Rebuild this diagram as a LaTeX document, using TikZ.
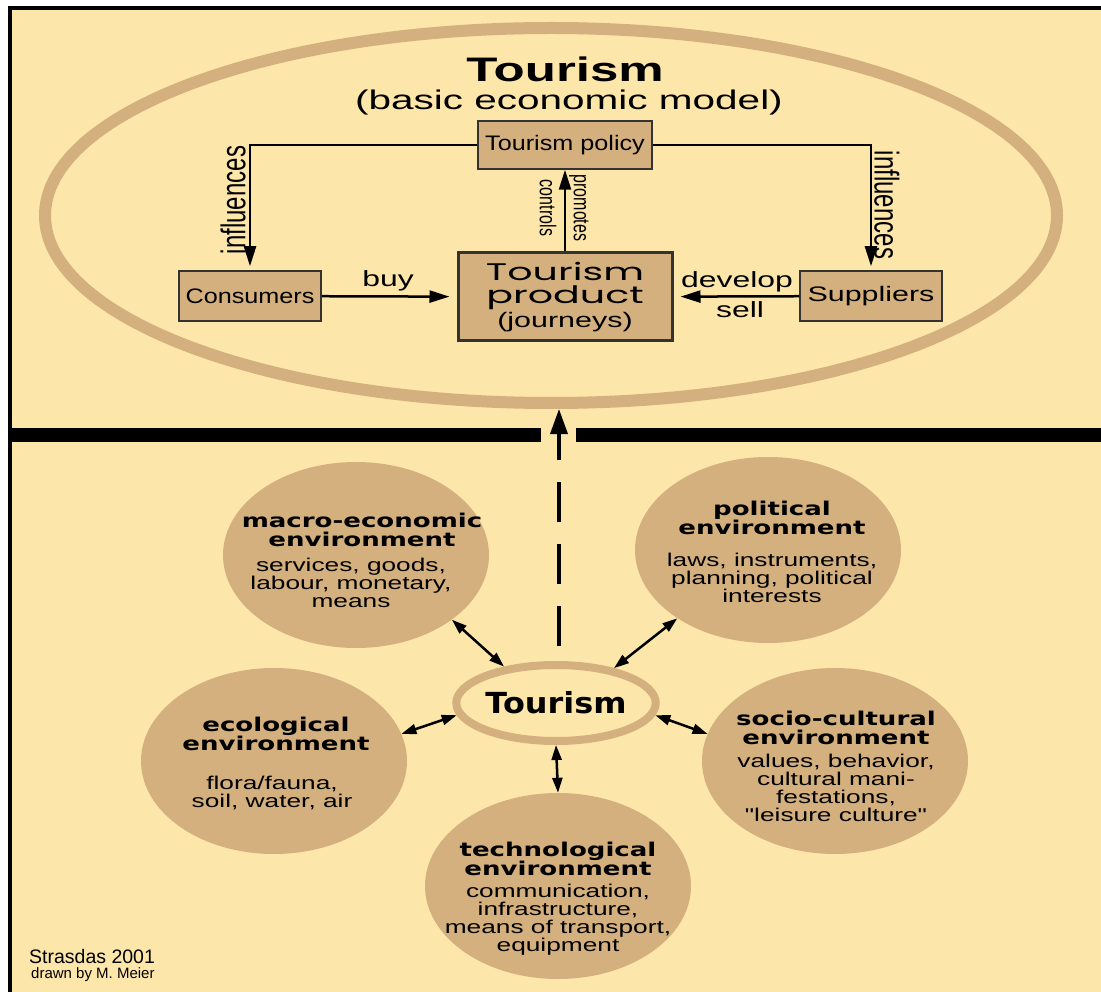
\documentclass[tikz,border=0pt]{standalone}
\usepackage{fontspec}
\usepackage{graphicx}
\usetikzlibrary{shapes.geometric,arrows.meta}
\setmainfont{Liberation Sans}
\newfontfamily\plainfont{Liberation Sans}
\newfontfamily\labelfont[FakeStretch=1.2]{Liberation Sans}
\newfontfamily\bodyfont[FakeStretch=1.45]{Liberation Sans}
\newfontfamily\envfont[FakeStretch=1.42]{Liberation Sans}
\newfontfamily\titlefont[FakeStretch=1.5]{Liberation Sans}
\newfontfamily\headfont[FakeStretch=1.37]{DejaVu Sans}
\newfontfamily\hubfont[FakeStretch=1.1]{DejaVu Sans}
\newfontfamily\prodfont[FakeStretch=1.65]{Poppins}
\definecolor{tcream}{RGB}{253,230,170}
\definecolor{ttan}{RGB}{212,176,127}
\tikzset{
  every node/.style={inner sep=0pt},
  tbox/.style={shape=rectangle,draw=black!80,fill=ttan,line width=1.5pt,minimum width=142pt,minimum height=50pt},
  ring/.style={shape=ellipse,draw=ttan,inner sep=0pt},
  env/.style={shape=ellipse,fill=ttan,minimum width=266pt,minimum height=186pt},
  hub/.style={shape=ellipse,draw=ttan,fill=tcream,line width=8pt,minimum width=194pt,minimum height=76pt,font=\hubfont\bfseries\fontsize{29}{29}\selectfont},
  envhead/.style={align=center,font=\headfont\bfseries\fontsize{19}{19}\selectfont},
  envbody/.style={align=center,font=\envfont\fontsize{18.5}{18}\selectfont},
  link/.style={line width=2.5pt,-{Triangle[length=20pt,width=12pt]}},
  twoway/.style={line width=2.5pt,{Triangle[length=15pt,width=10pt]}-{Triangle[length=15pt,width=10pt]}},
  dashlink/.style={line width=3.5pt,dash pattern=on 40pt off 22pt,-{Triangle[length=25pt,width=17pt]}},
}
\begin{document}
\begin{tikzpicture}[x=1pt,y=-1pt]
\useasboundingbox (0,0) rectangle (1101,992);
% frame and divider
\fill[tcream] (8,6) rectangle (1101,992);
\fill[black] (8,6) rectangle (1101,10);
\fill[black] (8,6) rectangle (12,992);
\fill[black] (12,428) rectangle (541,442);
\fill[black] (576,428) rectangle (1101,442);
% upper part: basic economic model
\node[ring,line width=12pt,minimum width=1012pt,minimum height=375pt] (model) at (551,215.5) {};
\node[font=\titlefont\bfseries\fontsize{34}{34}\selectfont] (title) at (565,69) {Tourism};
\node[font=\titlefont\fontsize{27}{27}\selectfont] (subtitle) at (569,103) {(basic economic model)};
\node[tbox,minimum width=174pt,minimum height=48pt,font=\labelfont\fontsize{21}{21}\selectfont] (policy) at (565,145) {Tourism policy};
\node[tbox,font=\labelfont\fontsize{21}{21}\selectfont] (consumers) at (250,296) {Consumers};
\node[tbox,font=\bodyfont\fontsize{21}{21}\selectfont] (suppliers) at (871,296) {Suppliers};
\node[tbox,line width=3pt,minimum width=214pt,minimum height=88pt,align=center,font=\prodfont\fontsize{24}{23.5}\selectfont] (product) at (565,297)
  {Tourism\\product\\{\bodyfont\fontsize{21}{23.5}\selectfont (journeys)}};
\draw[link,shorten >=4pt] (policy.west) -| (consumers.north);
\draw[link,shorten >=4pt] (policy.east) -| (suppliers.north);
\draw[link] (product.north) -- (policy.south);
\draw[link,shorten >=7pt] (consumers) -- (product);
\draw[link,shorten >=7pt] (suppliers) -- (product);
\node[font=\bodyfont\fontsize{22}{22}\selectfont] (buylabel) at (388,281) {buy};
\node[font=\bodyfont\fontsize{22}{22}\selectfont] (developlabel) at (737,282) {develop};
\node[font=\bodyfont\fontsize{22}{22}\selectfont] (selllabel) at (740,310) {sell};
\node[rotate=90,font=\plainfont\fontsize{24}{24}\selectfont] (inflleft) at (233,200) {\scalebox{1}[1.43]{influences}};
\node[rotate=-90,font=\plainfont\fontsize{24}{24}\selectfont] (inflright) at (887,205) {\scalebox{1}[1.43]{influences}};
\node[rotate=-90,font=\plainfont\fontsize{16}{16}\selectfont] (controlslabel) at (548,208) {\scalebox{1}[1.43]{controls}};
\node[rotate=-90,font=\plainfont\fontsize{16}{16}\selectfont] (promoteslabel) at (579,208) {\scalebox{1}[1.43]{promotes}};
% lower part: environments
\node[env] (macroenv) at (356,555) {};
\node[env] (politicalenv) at (768,550) {};
\node[env] (ecoenv) at (274,761) {};
\node[env] (socioenv) at (835,761) {};
\node[env] (techenv) at (558,886) {};
\node[hub] (hub) at (556,703) {Tourism};
\node[envhead] (macrohead) at (362,530) {macro-economic\\environment};
\node[envbody] (macrobody) at (351,583) {services, goods,\\labour, monetary,\\means};
\node[envhead] (politicalhead) at (772,518) {political\\environment};
\node[envbody] (politicalbody) at (772,578) {laws, instruments,\\planning, political\\interests};
\node[envhead] (ecohead) at (276,734) {ecological\\environment};
\node[envbody] (ecobody) at (272,793) {flora/fauna,\\soil, water, air};
\node[envhead] (sociohead) at (836,728) {socio-cultural\\environment};
\node[envbody] (sociobody) at (836,788) {values, behavior,\\cultural mani-\\festations,\\"leisure culture"};
\node[envhead] (techhead) at (558,859) {technological\\environment};
\node[envbody] (techbody) at (558,920) {communication,\\infrastructure,\\means of transport,\\equipment};
\draw[twoway] (macroenv.-34) -- (hub.145);
\draw[twoway] (politicalenv.217) -- (hub.31);
\draw[twoway] (ecoenv.12) -- (hub.187);
\draw[twoway] (hub.353) -- (socioenv.168);
\draw[twoway] (hub.south) -- (techenv.north);
\coordinate (dashfoot) at (559,646);
\draw[dashlink] (dashfoot) -- (dashfoot |- model.south);
% credits
\node[anchor=west,font=\plainfont\fontsize{19.5}{19.5}\selectfont] (credit) at (29,957) {Strasdas 2001};
\node[anchor=west,font=\plainfont\fontsize{15}{15}\selectfont] (drawer) at (31,975) {drawn by M. Meier};
\end{tikzpicture}
\end{document}
